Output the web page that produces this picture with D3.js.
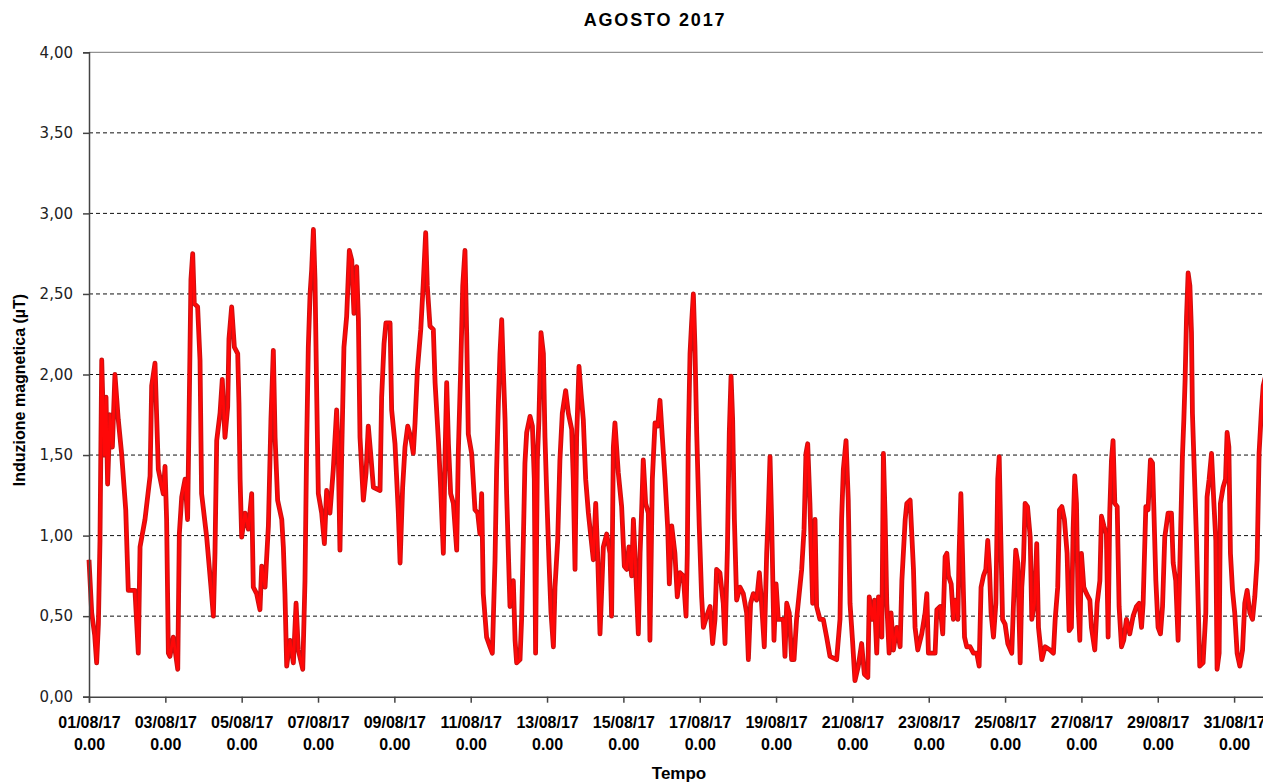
<!DOCTYPE html>
<html>
<head>
<meta charset="utf-8">
<title>AGOSTO 2017</title>
<script src="https://d3js.org/d3.v7.min.js"></script>
<style>
body { margin: 0; background: #fff; }
svg { display: block; }
</style>
</head>
<body>
<div id="chart"></div>
<script>
  // valori: [ore dall'inizio del mese, induzione in microtesla]
  var seg1 = [[0.0,0.85],[1.7,0.52],[3.6,0.38],[4.8,0.21],[5.9,0.45],[6.9,0.97],[8.0,2.09],[9.6,1.5],[10.7,1.86],[11.7,1.32],[13.2,1.75],[14.7,1.55],[16.3,2.0],[18.4,1.72],[20.5,1.51],[23.1,1.16],[24.7,0.66],[28.9,0.66],[31.0,0.27],[32.1,0.93],[35.2,1.1],[38.4,1.37],[39.4,1.93],[41.5,2.07],[42.6,1.72],[43.6,1.41],[46.7,1.26],[47.8,1.43],[48.8,1.1],[49.9,0.27],[50.9,0.25],[53.0,0.37],[55.8,0.17],[56.8,1.01],[58.3,1.24],[60.4,1.35],[62.0,1.1],[62.9,1.72],[64.1,2.59],[65.2,2.75],[66.2,2.44],[68.3,2.42],[69.8,2.09],[70.8,1.26],[74.0,0.99],[76.7,0.68],[78.2,0.5],[79.2,0.89],[80.3,1.59],[82.4,1.76],[83.8,1.97],[85.5,1.61],[87.2,1.8],[88.0,2.22],[89.7,2.42],[91.4,2.17],[93.5,2.13],[94.3,1.82],[95.0,1.35],[96.0,0.99],[98.1,1.14],[100.2,1.04],[102.3,1.26],[103.3,0.68],[105.4,0.64],[107.5,0.54],[108.6,0.81],[110.7,0.68],[112.8,1.06],[114.4,1.72],[115.9,2.15],[117.0,1.61],[118.6,1.22],[121.2,1.1]];
  var seg2 = [[122.2,0.93],[123.2,0.64],[124.3,0.19],[126.4,0.35],[128.5,0.21],[130.2,0.58],[131.6,0.29],[134.4,0.17],[135.8,0.72],[136.9,1.59],[137.9,2.17],[139.0,2.5],[140.0,2.65],[141.1,2.9],[142.1,2.59],[143.2,1.86],[144.2,1.26],[146.3,1.14],[148.0,0.95],[149.4,1.28],[151.5,1.14],[153.6,1.41],[155.7,1.78],[156.8,1.47],[157.8,0.91],[158.9,1.51],[160.3,2.17],[162.0,2.36],[163.7,2.77],[165.2,2.71],[166.6,2.38],[168.3,2.67],[169.4,2.34],[170.4,1.61],[172.5,1.22],[174.2,1.39],[175.6,1.68],[177.1,1.51],[178.8,1.3],[183.0,1.28],[184.0,1.86],[185.5,2.19],[186.7,2.32],[189.3,2.32],[190.3,1.78],[192.4,1.57],[194.5,1.14],[195.6,0.83],[197.2,1.3],[198.7,1.55],[200.4,1.68],[202.3,1.61],[203.9,1.51],[205.0,1.7],[206.5,2.03],[208.6,2.28],[210.2,2.57],[211.7,2.88],[212.7,2.55],[214.4,2.3],[216.5,2.28],[217.6,1.95],[219.7,1.59],[221.1,1.3],[222.8,0.89],[223.9,1.51],[224.9,1.95],[226.0,1.57],[227.4,1.26],[229.1,1.2],[231.2,0.91],[232.2,1.51],[233.7,2.03],[235.0,2.55],[236.4,2.77],[237.5,2.24],[238.5,1.63],[240.6,1.51],[242.7,1.16],[244.4,1.14]];
  var seg3 = [[245.8,1.01],[246.9,1.26],[247.9,0.64],[250.0,0.37],[252.1,0.31],[253.6,0.27],[255.3,0.85],[256.3,1.41],[257.4,1.82],[258.4,2.13],[259.5,2.34],[260.5,2.03],[261.6,1.72],[262.6,1.26],[263.7,0.89],[264.7,0.56],[266.8,0.72],[267.9,0.35],[268.9,0.21],[271.0,0.23],[272.0,0.48],[273.1,0.97],[274.1,1.45],[275.2,1.64],[277.3,1.74],[278.8,1.68],[280.0,1.35],[280.8,0.27],[281.9,1.47],[282.9,1.72],[284.2,2.26],[285.7,2.13],[286.7,1.61],[287.8,1.26],[289.2,0.85],[290.5,0.52],[292.0,0.31],[293.0,0.68],[294.7,0.97],[296.1,1.47],[297.6,1.76],[299.7,1.9],[301.4,1.76],[303.5,1.66],[304.5,1.35],[305.6,0.79],[306.6,1.61],[308.1,2.05],[309.4,1.88],[310.8,1.72],[312.3,1.35],[314.0,1.14],[315.6,0.99],[317.1,0.85],[318.6,1.2],[319.8,0.89],[321.3,0.39],[323.4,0.93],[325.5,1.01],[327.6,0.89],[328.6,0.5],[329.7,1.55],[330.7,1.7],[332.8,1.39],[334.9,1.18],[336.6,0.81],[338.1,0.79],[339.5,0.93],[341.2,0.75],[342.3,1.1],[343.7,0.79],[345.4,0.39],[346.5,0.89],[347.5,1.16],[348.5,1.47],[350.0,1.2],[351.7,1.14],[352.7,0.35],[354.2,1.35],[355.9,1.7],[357.6,1.68],[359.0,1.84],[360.5,1.61],[362.2,1.35],[363.9,1.04],[364.9,0.7],[366.4,1.06]];
  var seg4 = [[368.4,0.89],[369.9,0.62],[371.6,0.77],[373.7,0.75],[375.4,0.5],[376.2,0.89],[376.8,1.57],[377.9,2.13],[378.9,2.32],[380.0,2.5],[381.0,2.17],[382.1,1.64],[383.7,1.06],[385.2,0.62],[386.3,0.43],[388.4,0.5],[390.5,0.56],[392.1,0.33],[393.6,0.48],[394.6,0.79],[396.7,0.77],[398.8,0.58],[399.9,0.33],[401.4,0.91],[402.6,1.64],[403.7,1.99],[404.7,1.72],[405.8,1.1],[407.2,0.6],[409.3,0.68],[411.4,0.64],[413.5,0.52],[414.6,0.23],[416.0,0.58],[417.7,0.64],[419.8,0.6],[421.5,0.77],[422.9,0.58],[424.6,0.31],[426.1,0.89],[427.1,1.14],[428.2,1.49],[429.2,1.1],[430.7,0.35],[432.0,0.7],[433.4,0.48],[436.6,0.48],[437.6,0.25],[438.7,0.58],[440.3,0.52],[441.8,0.23],[443.3,0.23],[444.9,0.48],[448.1,0.79],[449.6,1.04],[450.8,1.51],[451.9,1.57],[453.3,1.2],[455.0,0.58],[456.5,1.1],[457.5,0.56],[459.6,0.48],[461.7,0.48],[463.8,0.37],[465.9,0.25],[470.1,0.23],[472.2,0.48],[473.2,1.1],[474.3,1.41],[476.0,1.59],[477.4,1.22],[478.5,0.58],[480.2,0.33],[481.6,0.1],[483.7,0.19],[485.8,0.33],[487.5,0.14],[489.7,0.12],[490.6,0.62]];
  var seg5 = [[492.6,0.48],[493.9,0.6],[495.3,0.27],[496.4,0.62],[497.4,0.6],[498.5,0.37],[499.5,1.51],[500.6,1.1],[501.6,0.58],[503.1,0.27],[504.3,0.52],[505.8,0.29],[507.9,0.43],[510.0,0.31],[511.1,0.72],[513.2,1.1],[514.2,1.2],[516.3,1.22],[518.4,0.79],[519.4,0.43],[521.1,0.29],[523.6,0.39],[525.7,0.52],[526.8,0.64],[527.8,0.27],[532.0,0.27],[533.1,0.54],[535.2,0.56],[536.8,0.39],[538.3,0.87],[539.4,0.89],[540.4,0.75],[542.1,0.7],[543.5,0.48],[544.6,0.6],[546.3,0.48],[547.1,0.89],[548.2,1.26],[549.2,0.89],[550.5,0.37],[551.9,0.31],[554.0,0.31],[556.1,0.27],[558.2,0.27],[559.7,0.19],[560.9,0.68],[562.4,0.75],[563.9,0.79],[565.1,0.97],[566.2,0.79],[567.2,0.52],[568.7,0.37],[570.2,0.58],[571.4,1.35],[572.3,1.49],[573.3,0.99],[574.4,0.48],[576.0,0.45],[577.7,0.33],[580.2,0.27],[581.3,0.58],[582.7,0.91],[584.0,0.83],[585.5,0.21],[586.5,0.68],[587.6,0.85],[588.6,1.2],[590.1,1.18],[591.8,0.99],[592.8,0.48],[594.5,0.58],[595.9,0.95],[597.0,0.43],[599.1,0.23],[601.2,0.31],[604.3,0.29],[606.4,0.27],[607.5,0.48],[609.1,0.68],[610.2,1.16],[611.7,1.18],[613.3,1.1]];
  var seg6 = [[615.0,0.89],[616.3,0.41],[617.7,0.43],[618.8,1.04],[619.8,1.37],[620.9,1.2],[621.9,0.58],[623.0,0.35],[624.0,0.89],[625.5,0.68],[627.2,0.64],[629.3,0.6],[630.3,0.43],[632.4,0.29],[633.9,0.58],[635.6,0.72],[636.6,1.12],[638.1,1.06],[639.7,1.01],[640.8,0.37],[641.8,1.14],[642.9,1.47],[643.9,1.59],[645.0,1.2],[646.5,1.18],[647.7,0.56],[649.2,0.31],[650.6,0.35],[652.3,0.48],[654.4,0.39],[656.5,0.5],[658.6,0.56],[660.3,0.58],[661.8,0.43],[662.8,0.58],[664.5,1.18],[665.9,1.16],[667.4,1.47],[668.7,1.45],[669.5,1.18],[670.8,0.72],[672.2,0.43],[673.7,0.39],[675.0,0.56],[676.4,0.99],[678.5,1.14],[680.6,1.14],[681.7,0.83],[683.3,0.72],[684.8,0.35],[686.3,0.99],[687.5,1.49],[688.4,1.72],[689.2,1.97],[690.1,2.36],[691.1,2.63],[692.2,2.55],[693.2,2.26],[693.8,1.76],[695.3,1.3],[696.3,0.99],[697.4,0.58],[698.4,0.19],[700.5,0.21],[702.2,0.52],[703.0,1.24],[704.3,1.35],[705.8,1.51],[707.2,1.22],[708.5,0.97],[709.3,0.17],[710.6,0.27],[711.4,1.2],[713.1,1.3],[714.6,1.35],[715.6,1.64],[716.7,1.55],[717.7,0.89],[719.0,0.66],[720.4,0.52],[721.9,0.27],[723.6,0.19],[725.3,0.29],[726.7,0.58],[728.2,0.66],[729.9,0.52],[731.6,0.48],[733.0,0.62],[734.5,0.85],[735.7,1.51],[737.2,1.78],[738.3,1.93],[739.5,1.98]];

  var yTicks = [0, 0.5, 1, 1.5, 2, 2.5, 3, 3.5, 4];
  var titolo = "AGOSTO 2017";
  var titoloY = "Induzione magnetica (\u00b5T)";
  var titoloX = "Tempo";

  var width = 1263, height = 784;
  var mLeft = 89, mTop = 52.3, mBottom = 696.7;
  var inizio = new Date(2017, 7, 1, 0, 0);
  var fine = new Date(2017, 8, 1, 0, 0);

  var dati = seg1.concat(seg2, seg3, seg4, seg5, seg6).map(function(d) {
    return { t: new Date(inizio.getTime() + d[0] * 3600e3), v: d[1] };
  });

  var svg = d3.select("#chart").append("svg")
    .attr("width", width)
    .attr("height", height);

  var x = d3.scaleTime().domain([inizio, fine]).range([mLeft, mLeft + 31 * 38.17]);
  var y = d3.scaleLinear().domain([0, 4]).range([mBottom, mTop]);

  // griglia tratteggiata
  svg.append("g").selectAll("line")
    .data(yTicks.filter(function(d) { return d > 0 && d < 4; }))
    .enter().append("line")
      .attr("x1", mLeft).attr("x2", width)
      .attr("y1", function(d) { return y(d); })
      .attr("y2", function(d) { return y(d); })
      .attr("stroke", "#111")
      .attr("stroke-width", 1)
      .attr("stroke-dasharray", "4,3");

  // bordo superiore
  svg.append("line")
    .attr("x1", mLeft).attr("x2", width)
    .attr("y1", y(4)).attr("y2", y(4))
    .attr("stroke", "#777").attr("stroke-width", 1);

  var linea = d3.line()
    .x(function(d) { return x(d.t); })
    .y(function(d) { return y(d.v); });

  svg.append("path").datum(dati)
    .attr("d", linea)
    .attr("fill", "none")
    .attr("stroke", "#c81212")
    .attr("stroke-width", 4.8)
    .attr("stroke-linejoin", "round");

  svg.append("path").datum(dati)
    .attr("d", linea)
    .attr("fill", "none")
    .attr("stroke", "#ff0808")
    .attr("stroke-width", 2.8)
    .attr("stroke-linejoin", "round");

  // asse y
  var yAxis = svg.append("g")
    .attr("transform", "translate(" + mLeft + ",0)")
    .call(d3.axisLeft(y).tickValues(yTicks).tickSize(6).tickPadding(10)
      .tickFormat(function(d) { return d3.format(".2f")(d).replace(".", ","); }));
  yAxis.select(".domain").attr("stroke", "#444").attr("stroke-width", 1.5);
  yAxis.selectAll(".tick line").attr("stroke", "#444").attr("stroke-width", 1.5);
  yAxis.selectAll("text")
    .attr("font-family", "'DejaVu Sans', sans-serif")
    .attr("font-size", "15px")
    .attr("fill", "#222");

  // asse x
  var fmtData = d3.timeFormat("%d/%m/%y");
  var xAxis = svg.append("g")
    .attr("transform", "translate(0," + mBottom + ")")
    .call(d3.axisBottom(x).ticks(d3.timeDay.every(2)).tickSize(6).tickFormat(""));
  xAxis.select(".domain").attr("stroke", "#444").attr("stroke-width", 1.5);
  xAxis.selectAll(".tick line").attr("stroke", "#444").attr("stroke-width", 1.5);
  xAxis.selectAll(".tick").filter(function(d) { return d.getDate() === 1 && d.getMonth() === 8; }).remove();

  var tickText = xAxis.selectAll(".tick").append("text")
    .attr("fill", "#000")
    .attr("font-family", "'Liberation Sans', Arial, sans-serif")
    .attr("font-weight", "bold")
    .attr("font-size", "16px")
    .attr("text-anchor", "middle");
  tickText.append("tspan").attr("x", 0).attr("y", 31.5)
    .text(function(d) { return fmtData(d); });
  tickText.append("tspan").attr("x", 0).attr("y", 53.5)
    .text("0.00");

  // titoli
  svg.append("text")
    .attr("x", 655).attr("y", 26)
    .attr("text-anchor", "middle")
    .attr("font-family", "'Liberation Sans', Arial, sans-serif")
    .attr("font-weight", "bold")
    .attr("font-size", "18px")
    .attr("letter-spacing", "1.8px")
    .attr("fill", "#000")
    .text(titolo);

  svg.append("text")
    .attr("x", 679).attr("y", 779)
    .attr("text-anchor", "middle")
    .attr("font-family", "'Liberation Sans', Arial, sans-serif")
    .attr("font-weight", "bold")
    .attr("font-size", "17px")
    .attr("fill", "#000")
    .text(titoloX);

  svg.append("text")
    .attr("transform", "translate(25,390) rotate(-90)")
    .attr("text-anchor", "middle")
    .attr("font-family", "'Liberation Sans', Arial, sans-serif")
    .attr("font-weight", "bold")
    .attr("font-size", "16px")
    .attr("fill", "#000")
    .text(titoloY);
</script>
</body>
</html>
